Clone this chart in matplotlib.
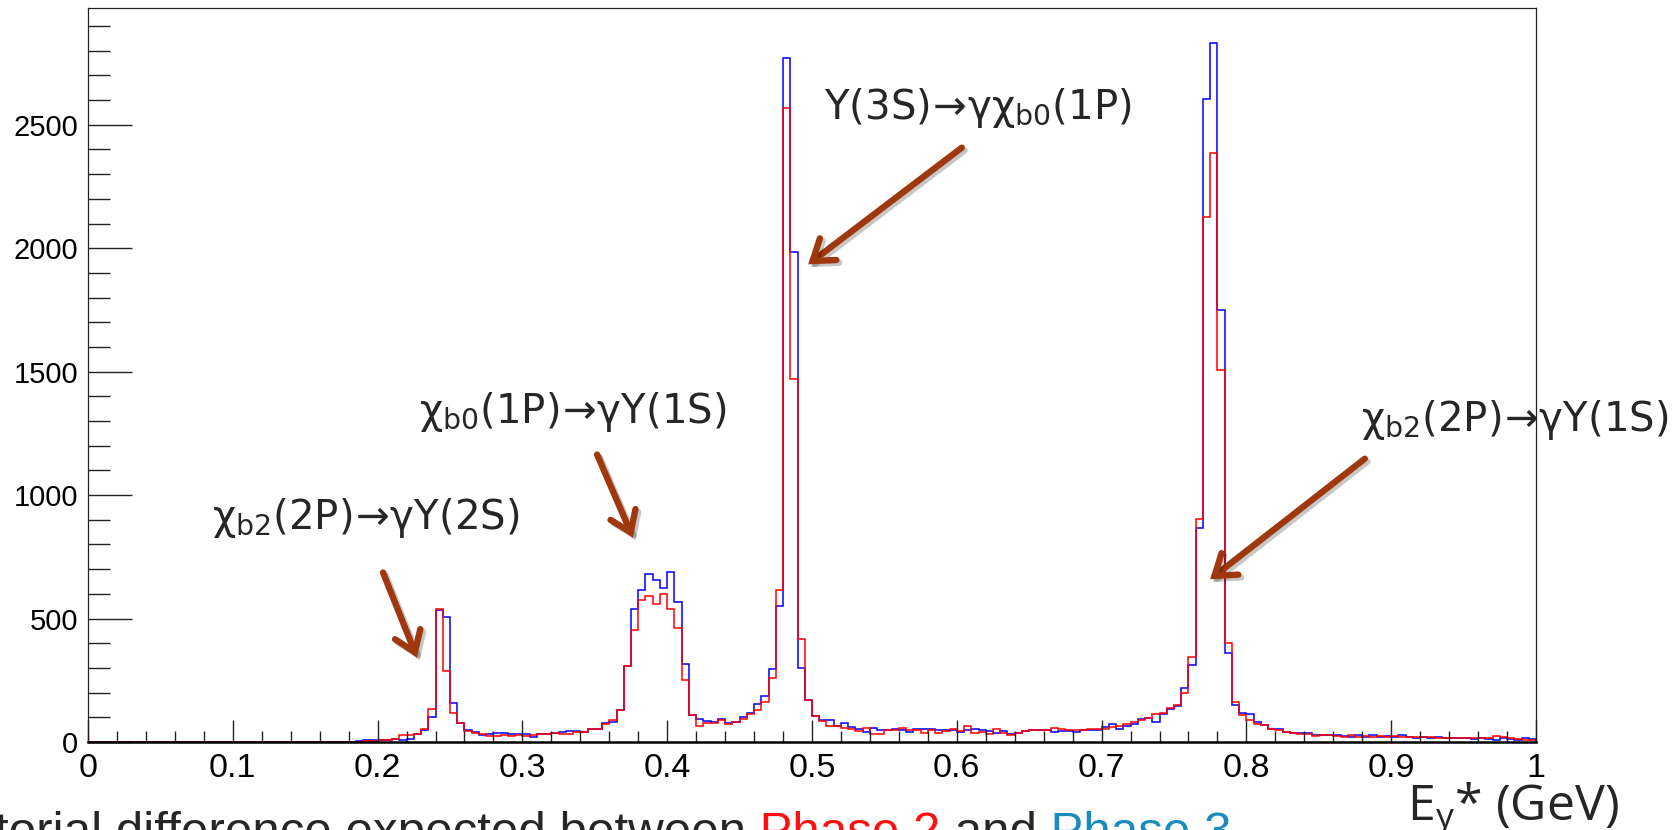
import numpy as np
import matplotlib
matplotlib.use('Agg')
import matplotlib.pyplot as plt
import matplotlib.patheffects as pe
from matplotlib.patches import FancyArrowPatch
from matplotlib.ticker import MultipleLocator

plt.rcParams['mathtext.fontset'] = 'custom'
plt.rcParams['mathtext.rm'] = 'Open Sans'
plt.rcParams['mathtext.it'] = 'Open Sans:italic'
plt.rcParams['mathtext.bf'] = 'Open Sans:bold'
plt.rcParams['mathtext.fallback'] = 'stixsans'

# Photon energy spectrum, 200 bins between 0 and 1 GeV
e_min, e_max, n_bins = 0.0, 1.0, 200

# blue histogram (Phase 3)
phase3 = [
    0, 0, 0, 0, 0, 0, 0, 0, 0, 0, 0, 0, 0, 0, 0, 0, 0, 0, 0, 0,
    0, 0, 0, 2, 1, 0, 0, 0, 0, 0, 0, 0, 0, 0, 0, 0, 0, 3, 7, 7,
    7, 9, 11, 9, 13, 31, 49, 102, 534, 507, 156, 76, 49, 39, 28, 31, 35, 35, 31, 33,
    31, 20, 34, 34, 36, 40, 44, 44, 40, 51, 54, 77, 82, 131, 306, 539, 614, 681, 657, 623,
    690, 566, 317, 108, 94, 85, 81, 94, 77, 81, 101, 117, 154, 185, 295, 549, 2771, 1985, 301, 171,
    106, 90, 90, 63, 77, 61, 51, 40, 57, 47, 47, 54, 47, 40, 54, 54, 51, 50, 50, 47,
    40, 47, 51, 47, 43, 36, 43, 34, 36, 43, 47, 50, 47, 40, 43, 43, 40, 47, 47, 47,
    61, 71, 54, 63, 74, 94, 98, 82, 112, 135, 144, 220, 310, 866, 2605, 2833, 1748, 361, 148, 119,
    112, 81, 67, 54, 54, 40, 36, 36, 36, 30, 30, 30, 27, 25, 22, 27, 22, 30, 20, 25,
    22, 27, 20, 18, 20, 18, 20, 16, 18, 15, 15, 14, 15, 12, 10, 18, 12, 10, 15, 12,
]

# red histogram (Phase 2)
phase2 = [
    0, 0, 0, 0, 0, 0, 0, 0, 0, 0, 0, 0, 0, 0, 0, 0, 0, 0, 0, 0,
    0, 0, 0, 0, 0, 0, 0, 0, 0, 0, 0, 0, 0, 1, 1, 2, 2, 2, 4, 4,
    7, 7, 13, 27, 27, 31, 52, 132, 539, 287, 119, 76, 45, 35, 31, 24, 25, 28, 25, 28,
    23, 28, 34, 34, 36, 34, 31, 40, 40, 51, 53, 71, 88, 131, 306, 452, 576, 593, 560, 600,
    539, 461, 252, 108, 63, 78, 78, 90, 74, 81, 94, 112, 129, 163, 261, 614, 2567, 1471, 419, 172,
    105, 86, 63, 63, 57, 54, 43, 57, 34, 34, 47, 47, 57, 50, 47, 36, 50, 36, 43, 54,
    43, 66, 36, 39, 31, 51, 36, 30, 36, 43, 47, 50, 50, 58, 54, 47, 47, 50, 54, 54,
    54, 61, 63, 71, 81, 88, 97, 112, 117, 139, 148, 200, 344, 903, 2128, 2385, 1505, 400, 162, 108,
    88, 74, 67, 54, 47, 40, 36, 34, 34, 23, 27, 27, 23, 22, 27, 22, 25, 20, 25, 22,
    25, 22, 22, 20, 22, 20, 18, 18, 15, 16, 15, 16, 15, 18, 25, 20, 15, 12, 10, 8,
]

x_ticks = [0, 0.1, 0.2, 0.3, 0.4, 0.5, 0.6, 0.7, 0.8, 0.9, 1]
x_tick_labels = ['0', '0.1', '0.2', '0.3', '0.4', '0.5', '0.6', '0.7', '0.8', '0.9', '1']
y_ticks = [0, 500, 1000, 1500, 2000, 2500]
y_tick_labels = ['0', '500', '1000', '1500', '2000', '2500']

# transition labels: (text, left px, centre px) in 1678x830 picture coordinates
arrow_sym = r'\!{\rightarrow}\!'
labels = [
    (r'$\mathregular{χ_{b2}(2P)' + arrow_sym + r'γΥ(2S)}$', 212, 518),
    (r'$\mathregular{χ_{b0}(1P)' + arrow_sym + r'γΥ(1S)}$', 419, 412),
    (r'$\mathregular{Υ(3S)' + arrow_sym + r'γχ_{b0}(1P)}$', 824, 108),
    (r'$\mathregular{χ_{b2}(2P)' + arrow_sym + r'γΥ(1S)}$', 1361, 420),
]
# arrows: tail -> head, picture pixels
arrows = [
    ((382, 570), (418, 660)),
    ((596, 452), (634, 540)),
    ((964, 146), (806, 266)),
    ((1367, 457), (1208, 581)),
]

W, H = 1678, 830


def fx(px):
    return px / W


def fy(py):
    return 1 - py / H


fig = plt.figure(figsize=(W / 100, H / 100), dpi=100)
ax = fig.add_axes([fx(88), fy(742), fx(1536 - 88), (742 - 7.5) / H])

edges = np.linspace(e_min, e_max, n_bins + 1)
ax.stairs(phase3, edges, color='blue', lw=1.1)
ax.stairs(phase2, edges, color='red', lw=1.1)

ax.set_xlim(e_min, e_max)
ax.set_ylim(0, 2975)
ax.set_xticks(x_ticks)
ax.set_xticklabels(x_tick_labels)
ax.set_yticks(y_ticks)
ax.set_yticklabels(y_tick_labels)
ax.xaxis.set_minor_locator(MultipleLocator(0.02))
ax.yaxis.set_minor_locator(MultipleLocator(100))

ax.tick_params(axis='both', which='both', direction='in', top=False, right=False,
               color='#222222', width=1.0)
ax.tick_params(axis='x', which='major', length=15.8, pad=8, labelsize=24.5)
ax.tick_params(axis='x', which='minor', length=7.9)
ax.tick_params(axis='y', which='major', length=31.7, pad=7, labelsize=21)
ax.tick_params(axis='y', which='minor', length=15.8)
for lab in ax.get_xticklabels() + ax.get_yticklabels():
    lab.set_family('Liberation Sans')

for side in ['left', 'top', 'right']:
    ax.spines[side].set_linewidth(0.9)
    ax.spines[side].set_color('#222222')
ax.spines['bottom'].set_linewidth(1.8)
ax.spines['bottom'].set_color('black')

text_color = '#262626'
for s, px, py in labels:
    fig.text(fx(px), fy(py), s, fontsize=29, color=text_color, ha='left', va='center')

shadow = [pe.SimpleLineShadow(offset=(2, -2), shadow_color='black', alpha=0.22), pe.Normal()]
for (tx, ty), (hx, hy) in arrows:
    arr = FancyArrowPatch((fx(tx), fy(ty)), (fx(hx), fy(hy)), transform=fig.transFigure,
                          arrowstyle='->,head_length=1.0,head_width=0.7', mutation_scale=14,
                          lw=4.6, color='#A0380E', capstyle='round', joinstyle='miter',
                          path_effects=shadow)
    fig.add_artist(arr)

# axis title
fig.text(fx(1407), fy(809), r'$\mathregular{E_{γ}}$* (GeV)', fontsize=36, color=text_color,
         family='Open Sans', ha='left', va='center')

# slide caption, cut off at the picture edges
pieces = [('torial difference expected between', '#262626'),
          (' Phase 2', '#ff1010'),
          (' and', '#262626'),
          (' Phase 3', '#1a8bbd')]
renderer = fig.canvas.get_renderer()
x = fx(-5)
for s, c in pieces:
    t = fig.text(x, fy(846), s, fontsize=35.5, color=c, family='Liberation Sans',
                 ha='left', va='baseline')
    x += t.get_window_extent(renderer).width / W

fig.savefig('out.png', dpi=100)
